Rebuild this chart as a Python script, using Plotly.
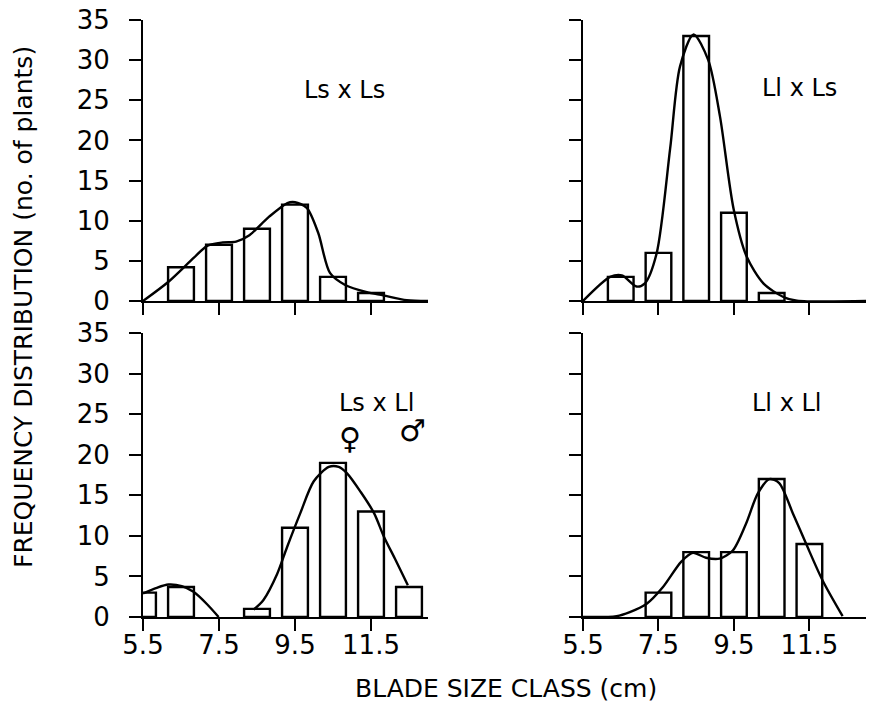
import plotly.graph_objects as go

# ---------------- data ----------------
# Panel 1: Ls x Ls (top-left)
p1_classes = [6.5, 7.5, 8.5, 9.5, 10.5, 11.5]
p1_counts = [4.2, 7, 9, 12, 3, 1]
p1_curve_x = [5.5, 6.17, 6.84, 7.2, 7.6, 7.95, 8.3, 8.82, 9.3, 9.5, 9.81, 10.11, 10.42, 10.82, 11.39, 11.82, 12.44, 13.0]
p1_curve_y = [0, 2.4, 5.4, 6.9, 7.3, 7.4, 8.2, 10.5, 12.2, 12.3, 11.6, 8.5, 3.5, 2.0, 1.1, 0.7, 0.1, 0]

# Panel 2: Ll x Ls (top-right)
p2_classes = [6.5, 7.5, 8.5, 9.5, 10.5]
p2_counts = [3, 6, 33, 11, 1]
p2_curve_x = [5.5, 6.22, 6.53, 6.92, 7.14, 7.45, 7.81, 8.07, 8.43, 8.82, 9.13, 9.49, 9.84, 10.28, 10.81, 11.17, 13.0]
p2_curve_y = [0, 3.0, 3.2, 1.8, 2.2, 5.9, 19.0, 29.2, 33.2, 30.0, 23.0, 11.5, 5.5, 2.2, 0.5, 0.05, 0]

# Panel 3: Ls x Ll (bottom-left)
p3_classes = [5.5, 6.5, 8.5, 9.5, 10.5, 11.5, 12.5]
p3_counts = [3, 3.7, 1, 11, 19, 13, 3.7]
p3_curve_a_x = [5.5, 5.86, 6.17, 6.52, 6.83, 7.18, 7.49]
p3_curve_a_y = [2.9, 3.6, 4.0, 3.8, 3.1, 1.6, 0]
p3_curve_b_x = [8.41, 8.67, 9.03, 9.29, 9.64, 9.99, 10.39, 10.65, 10.87, 11.23, 11.58, 11.84, 12.15, 12.47]
p3_curve_b_y = [0.9, 2.1, 5.3, 8.6, 12.8, 16.7, 18.5, 18.5, 17.7, 15.4, 12.8, 9.9, 7.0, 3.9]

# Panel 4: Ll x Ll (bottom-right)
p4_classes = [7.5, 8.5, 9.5, 10.5, 11.5]
p4_counts = [3, 8, 8, 17, 9]
p4_curve_x = [5.5, 6.39, 6.74, 7.18, 7.62, 8.1, 8.41, 8.76, 9.12, 9.47, 9.82, 10.13, 10.44, 10.7, 11.06, 11.41, 11.85, 12.38]
p4_curve_y = [0, 0.1, 0.6, 1.6, 3.7, 6.8, 7.9, 7.3, 7.2, 8.2, 11.5, 15.2, 17.0, 16.5, 12.8, 9.05, 4.5, 0.1]

x_ticks = [5.5, 7.5, 9.5, 11.5]
x_tick_labels = ["5.5", "7.5", "9.5", "11.5"]
y_ticks = [0, 5, 10, 15, 20, 25, 30, 35]
y_tick_labels = ["0", "5", "10", "15", "20", "25", "30", "35"]

panel_titles = ["Ls x Ls", "Ll x Ls", "Ls x Ll", "Ll x Ll"]

# ---------------- figure ----------------
FONT = "DejaVu Sans"
W, H = 871, 704
fig = go.Figure()

bar_style = dict(marker=dict(color="white", line=dict(color="black", width=2.4)),
                 width=0.68, showlegend=False, hoverinfo="skip")
line_style = dict(mode="lines", line=dict(color="black", width=2.4, shape="spline", smoothing=0.8),
                  showlegend=False, hoverinfo="skip")

panels = [
    ("x", "y", p1_classes, p1_counts, [(p1_curve_x, p1_curve_y)]),
    ("x2", "y2", p2_classes, p2_counts, [(p2_curve_x, p2_curve_y)]),
    ("x3", "y3", p3_classes, p3_counts, [(p3_curve_a_x, p3_curve_a_y), (p3_curve_b_x, p3_curve_b_y)]),
    ("x4", "y4", p4_classes, p4_counts, [(p4_curve_x, p4_curve_y)]),
]
for xa, ya, cx, cy, curves in panels:
    fig.add_trace(go.Bar(x=cx, y=cy, xaxis=xa, yaxis=ya, **bar_style))
    for xs, ys in curves:
        fig.add_trace(go.Scatter(x=xs, y=ys, xaxis=xa, yaxis=ya, **line_style))

# domains in pixel fractions
left_dom = [143 / W, 428 / W]
right_dom = [583 / W, 866 / W]
top_dom = [1 - 301 / H, 1 - 20 / H]
bot_dom = [1 - 617 / H, 1 - 333 / H]

tickfont = dict(family=FONT, size=26, color="black")

def xaxis(domain, anchor, labels):
    return dict(domain=domain, anchor=anchor, range=[5.5, 13.0], showgrid=False, zeroline=False,
                showline=True, linecolor="black", linewidth=2, ticks="outside", ticklen=12,
                tickwidth=2, tickcolor="black", tickvals=x_ticks,
                ticktext=x_tick_labels if labels else [""] * len(x_ticks),
                tickfont=tickfont, ticklabelstandoff=-8, automargin=False, fixedrange=True)

def yaxis(domain, anchor, labels):
    return dict(domain=domain, anchor=anchor, range=[0, 35], showgrid=False, zeroline=False,
                showline=True, linecolor="black", linewidth=2, ticks="outside", ticklen=12,
                tickwidth=2, tickcolor="black", tickvals=y_ticks,
                ticktext=y_tick_labels if labels else [""] * len(y_ticks),
                tickfont=tickfont, ticklabelstandoff=14, automargin=False, fixedrange=True)

fig.update_layout(
    width=W, height=H,
    margin=dict(l=0, r=0, t=0, b=0, autoexpand=False),
    paper_bgcolor="white", plot_bgcolor="white",
    barmode="overlay",
    xaxis=xaxis(left_dom, "y", False),
    yaxis=yaxis(top_dom, "x", True),
    xaxis2=xaxis(right_dom, "y2", False),
    yaxis2=yaxis(top_dom, "x2", False),
    xaxis3=xaxis(left_dom, "y3", True),
    yaxis3=yaxis(bot_dom, "x3", True),
    xaxis4=xaxis(right_dom, "y4", True),
    yaxis4=yaxis(bot_dom, "x4", False),
)

lab_font = dict(family=FONT, size=24, color="black")
sym_font = dict(family=FONT, size=30, color="black")
annots = [
    dict(x=10.8, y=26.3, xref="x", yref="y", text=panel_titles[0], font=lab_font),
    dict(x=11.23, y=26.5, xref="x2", yref="y2", text=panel_titles[1], font=lab_font),
    dict(x=11.65, y=26.4, xref="x3", yref="y3", text=panel_titles[2], font=lab_font),
    dict(x=10.9, y=26.4, xref="x4", yref="y4", text=panel_titles[3], font=lab_font),
    dict(x=10.96, y=22.0, xref="x3", yref="y3", text="\u2640", font=sym_font),
    dict(x=12.6, y=23.0, xref="x3", yref="y3", text="\u2642", font=sym_font),
]
for a in annots:
    fig.add_annotation(showarrow=False, xanchor="center", yanchor="middle", **a)

fig.add_annotation(x=23 / W, y=1 - 307 / H, xref="paper", yref="paper", showarrow=False,
                   xanchor="center", yanchor="middle",
                   text="FREQUENCY DISTRIBUTION (no. of plants)", textangle=-90,
                   font=dict(family=FONT, size=25, color="black"))
fig.add_annotation(x=506 / W, y=1 - 688 / H, xref="paper", yref="paper", showarrow=False,
                   xanchor="center", yanchor="middle",
                   text="BLADE SIZE CLASS (cm)",
                   font=dict(family=FONT, size=25, color="black"))

fig.write_html("out.html", config={"displayModeBar": False})
